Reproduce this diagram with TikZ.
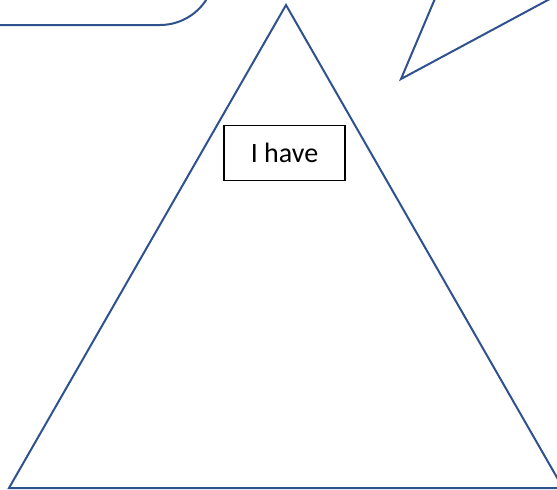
\documentclass[tikz,border=0pt]{standalone}
\usepackage{fontspec}
\setmainfont{Carlito}
\definecolor{shapeblue}{HTML}{2F528F}
\begin{document}
\begin{tikzpicture}[x=1pt,y=-1pt,
  outline/.style={draw=shapeblue,line width=2pt,line join=miter},
  labelbox/.style={draw=black,line width=1.3pt,minimum width=121pt,minimum height=55pt,inner sep=0pt,font=\fontsize{28}{32}\selectfont}]
\useasboundingbox (0,0) rectangle (557,490);
\clip (0,0) rectangle (557,490);
% top-left rounded shape (cut off)
\draw[outline] (-20,25) -- (160,25) arc[start angle=90,end angle=33,radius=55];
% top-right triangle (cut off)
\coordinate (s1) at (401,79);
\coordinate (s2) at (445,-25);
\coordinate (s3) at (600,-28);
\draw[outline] (s2) -- (s1) -- (s3);
% big triangle
\coordinate (apex) at (286,5);
\coordinate (bl) at (9,488);
\coordinate (br) at (563,488);
\draw[outline] (apex) -- (bl) -- (br) -- cycle;
\node[labelbox] (have) at (284.5,153) {I have};
\end{tikzpicture}
\end{document}
